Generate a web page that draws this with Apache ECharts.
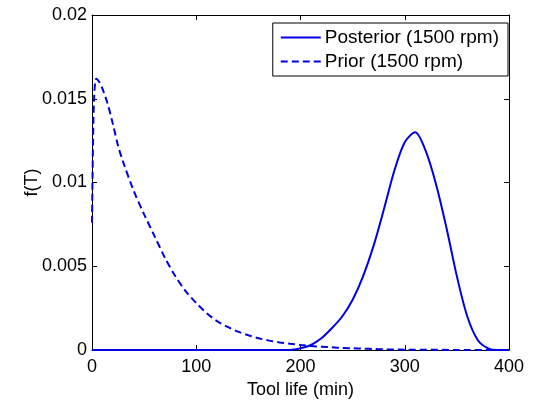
<!DOCTYPE html>
<html>
<head>
<meta charset="utf-8">
<script src="https://cdn.jsdelivr.net/npm/echarts@6/dist/echarts.min.js"></script>
<style>html,body{margin:0;padding:0;background:#fff;}#c{width:534px;height:400px;}</style>
</head>
<body>
<div id="c"></div>
<script>
var xTicks = [0, 100, 200, 300, 400];
var yTicks = [0, 0.005, 0.01, 0.015, 0.02];
var seriesNames = ['Posterior (1500 rpm)', 'Prior (1500 rpm)'];

var posteriorX = [0, 50, 100, 150, 190, 200, 210, 220, 230, 240, 250, 260, 270, 280, 290, 300, 310, 320, 330, 340, 350, 360, 370, 380, 390, 400];
var posteriorY = [0, 0, 0, 0, 0, 0.0001, 0.0003, 0.0007, 0.0013, 0.0020, 0.0030, 0.0044, 0.0062, 0.0084, 0.0107, 0.0124, 0.0130, 0.0119, 0.0099, 0.0073, 0.0044, 0.0020, 0.0006, 0.0001, 0, 0];

var priorX = [0, 1, 2, 4, 7, 10, 15, 20, 25, 30, 40, 50, 60, 70, 80, 90, 100, 110, 120, 130, 140, 150, 160, 170, 180, 190, 200, 210, 220, 230, 240, 250, 260, 270, 280, 290, 300, 350, 400];
var priorY = [0.0076, 0.0125, 0.0150, 0.0162, 0.0160, 0.0156, 0.0147, 0.0135, 0.0122, 0.0112, 0.0095, 0.0081, 0.0068, 0.0055, 0.0044, 0.0035, 0.0028, 0.0022, 0.00172, 0.00138, 0.0011, 0.00088, 0.0007, 0.00056, 0.00045, 0.00037, 0.0003, 0.00024, 0.0002, 0.00016, 0.00012, 0.0001, 0.00008, 0.00006, 0.00004, 0.00003, 0.00002, 0.000005, 0];

function pairs(xs, ys) { return xs.map(function (x, i) { return [x, ys[i]]; }); }

var font = '"Liberation Sans", Arial, sans-serif';
var fs = 18;
var blue = '#0000e6';
var chart = echarts.init(document.getElementById('c'), null, {renderer: 'canvas'});

var xBase = {
  type: 'value', min: xTicks[0], max: xTicks[xTicks.length - 1], interval: xTicks[1] - xTicks[0],
  axisLine: {show: true, onZero: false, lineStyle: {color: '#000', width: 1}},
  axisTick: {show: true, inside: true, length: 5, lineStyle: {color: '#000'}},
  splitLine: {show: false}
};
var yBase = {
  type: 'value', min: yTicks[0], max: yTicks[yTicks.length - 1], interval: yTicks[1] - yTicks[0],
  axisLine: {show: true, onZero: false, lineStyle: {color: '#000', width: 1}},
  axisTick: {show: true, inside: true, length: 5, lineStyle: {color: '#000'}},
  splitLine: {show: false}
};

chart.setOption({
  backgroundColor: '#fff',
  animation: false,
  grid: {left: 92, right: 25, top: 15, bottom: 50, show: false, containLabel: false, outerBoundsMode: 'none'},
  legend: {
    data: seriesNames,
    orient: 'vertical',
    right: 26, top: 23,
    backgroundColor: '#fff',
    borderColor: '#000', borderWidth: 1, borderRadius: 0,
    padding: [5, 9, 5, 7],
    itemWidth: 40, itemHeight: 14, itemGap: 5,
    itemStyle: {opacity: 0, borderWidth: 0},
    textStyle: {fontFamily: font, fontSize: 19, color: '#000', padding: [0, 0, 0, -1]}
  },
  xAxis: [
    Object.assign({}, xBase, {
      position: 'bottom',
      name: 'Tool life (min)', nameLocation: 'middle', nameGap: 29,
      nameTextStyle: {fontFamily: font, fontSize: fs, color: '#000'},
      axisLabel: {fontFamily: font, fontSize: fs, color: '#000', margin: 8}
    }),
    Object.assign({}, xBase, {position: 'top', axisLabel: {show: false}})
  ],
  yAxis: [
    Object.assign({}, yBase, {
      position: 'left',
      name: 'f(T)', nameLocation: 'middle', nameGap: 51, nameMoveOverlap: false,
      nameTextStyle: {fontFamily: font, fontSize: fs, color: '#000'},
      axisLabel: {fontFamily: font, fontSize: fs, color: '#000', margin: 5}
    }),
    Object.assign({}, yBase, {position: 'right', axisLabel: {show: false}})
  ],
  series: [
    {
      name: seriesNames[0], type: 'line', xAxisIndex: 0, yAxisIndex: 0,
      data: pairs(posteriorX, posteriorY), smooth: 0.3, symbol: 'none',
      lineStyle: {color: blue, width: 2}, itemStyle: {color: blue}, z: 3
    },
    {
      name: seriesNames[1], type: 'line', xAxisIndex: 0, yAxisIndex: 0,
      data: pairs(priorX, priorY), smooth: 0.3, symbol: 'none',
      lineStyle: {color: blue, width: 2, type: [7, 4]}, itemStyle: {color: blue}, z: 2
    }
  ]
});
</script>
</body>
</html>
